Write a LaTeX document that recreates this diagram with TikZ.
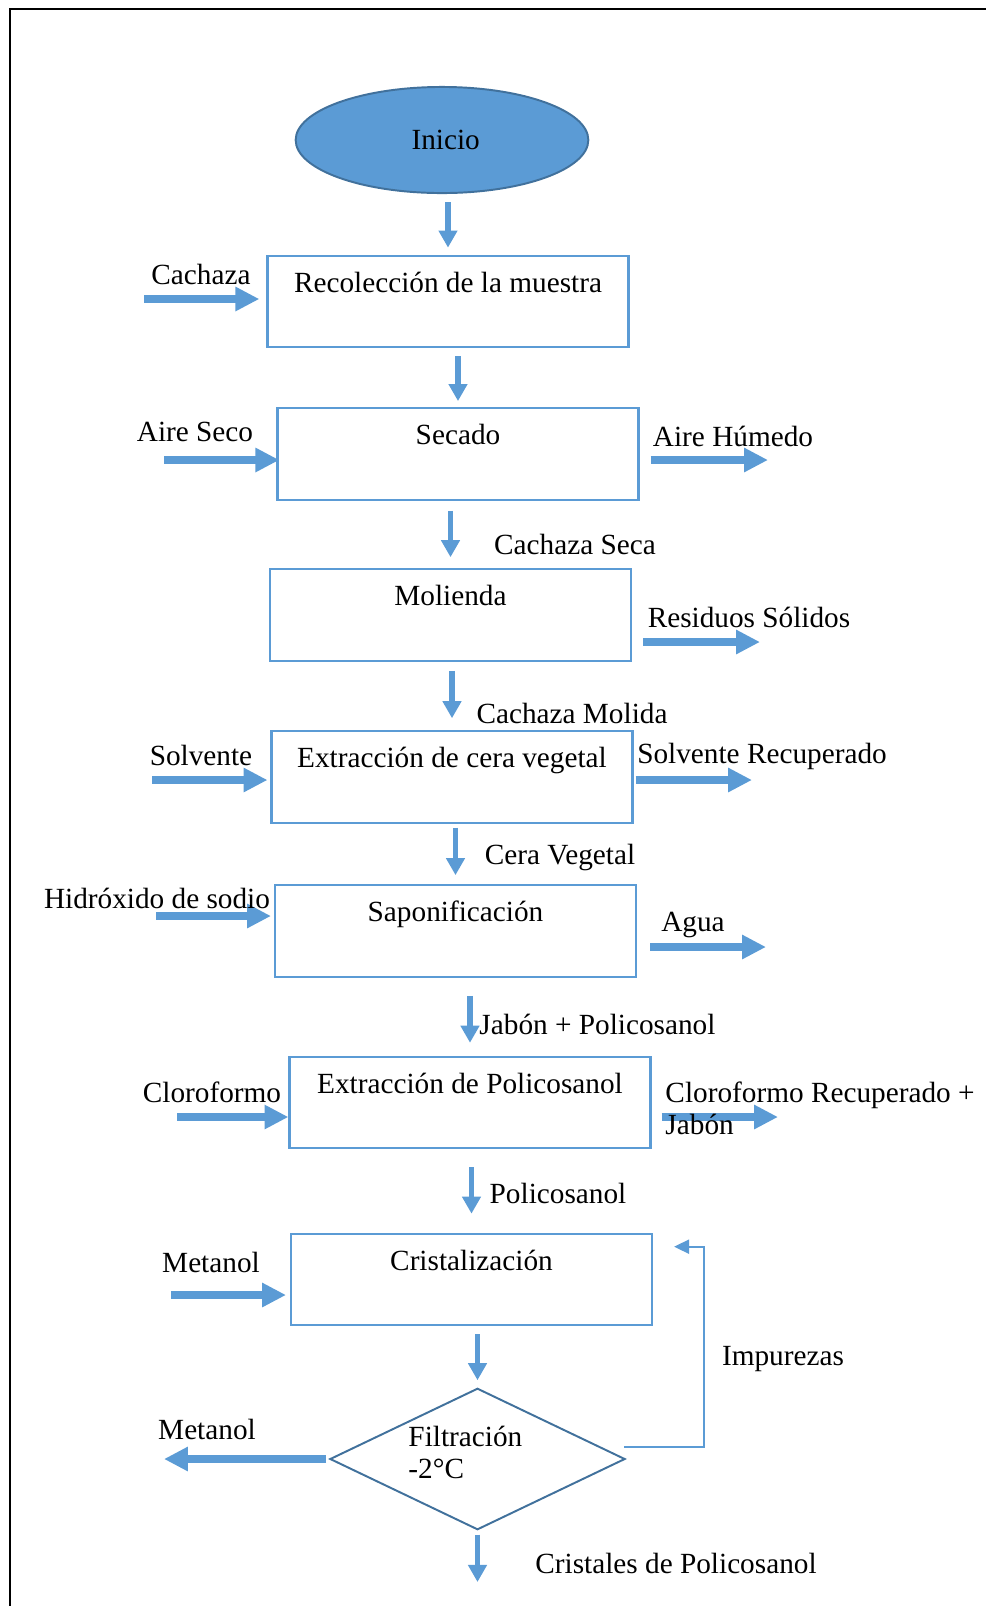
\documentclass[tikz,border=0pt]{standalone}
\usepackage{fontspec}
\setmainfont{Liberation Serif}
\usepackage{tikz}
\usetikzlibrary{positioning,arrows.meta,calc,shapes.geometric}
\definecolor{flowblue}{HTML}{5B9BD5}
\definecolor{flowdark}{HTML}{41719C}
\tikzset{
  procbox/.style  ={draw=flowblue, line width=0.9pt, minimum width=148pt, inner sep=0pt,
                    text height=15pt, text depth=22.5pt},
  startnode/.style={ellipse, fill=flowblue, draw=flowdark, line width=0.8pt,
                    minimum width=120pt, minimum height=43.5pt},
  decision/.style ={diamond, draw=flowdark, line width=0.8pt, minimum width=121pt,
                    minimum height=58pt, inner sep=0pt},
  lbl/.style      ={inner sep=0pt},
  flowarrow/.style={-{Triangle[length=7pt,width=7.4pt]}, flowblue, line width=2.4pt},
  feedarrow/.style={-{Triangle[length=9.8pt,width=9.4pt]}, flowblue, line width=3.2pt},
  looparrow/.style={-{Triangle[length=6.2pt,width=5.8pt]}, flowblue, line width=0.8pt},
}

\begin{document}
\begin{tikzpicture}[x=0.41pt, y=-0.41pt, font=\fontsize{12}{13.1}\selectfont]
  \useasboundingbox (0,0) rectangle (986,1606);
  \draw[line width=1pt] (10,1606) -- (10,9) -- (986,9);

  \node[startnode] (inicio)   at (442,140)    {\hspace*{3pt}Inicio};
  \node[procbox]   (recol)    at (448,301.5)  {Recolección de la muestra};
  \node[procbox]   (secado)   at (458,454)    {Secado};
  \node[procbox]   (molienda) at (450.5,615)  {Molienda};
  \node[procbox]   (extcera)  at (452,777)    {Extracción de cera vegetal};
  \node[procbox]   (sapon)    at (455.5,931)  {Saponificación};
  \node[procbox]   (extpoli)  at (470,1102.5) {Extracción de Policosanol};
  \node[procbox]   (crist)    at (471.5,1279.5) {Cristalización};
  \node[decision]  (filt)     at (477.5,1459) {};
  \node[lbl, anchor=west, align=left] (filtT) at (408,1452) {Filtración\\-2°C};

  % main line
  \draw[flowarrow, shorten <=3.3pt, shorten >=2.9pt] (recol.north |- inicio.south) -- (recol.north);
  \draw[flowarrow, shorten <=3.3pt, shorten >=2.5pt] (secado.north |- recol.south) -- (secado.north);
  \draw[flowarrow, shorten <=4.1pt, shorten >=4.5pt] (molienda.north |- secado.south) -- (molienda.north);
  \draw[flowarrow, shorten <=3.7pt, shorten >=4.9pt] (extcera.north |- molienda.south) -- (extcera.north);
  \draw[flowarrow, shorten <=1.6pt, shorten >=3.7pt] (sapon.north |- extcera.south) -- (sapon.north);
  \draw[flowarrow, shorten <=7.4pt, shorten >=5.3pt] (extpoli.north |- sapon.south) -- (extpoli.north);
  \draw[flowarrow, shorten <=7.4pt, shorten >=7.8pt] (crist.north |- extpoli.south) -- (crist.north);
  \draw[flowarrow, shorten <=3.3pt, shorten >=2.9pt] (filt.north |- crist.south) -- (filt.north);
  \coordinate (cristOut) at (477.5,1582);
  \draw[flowarrow, shorten <=1.6pt] (filt.south) -- (cristOut);

  % feeds in and out
  \coordinate (cachazaIn) at (144,299);
  \draw[feedarrow, shorten >=2.9pt] (cachazaIn) -- (cachazaIn -| recol.west);
  \coordinate (aireIn) at (164,460);
  \draw[feedarrow, shorten >=-1.2pt] (aireIn) -- (aireIn -| secado.west);
  \coordinate (aireOut) at (768,460);
  \draw[feedarrow, shorten <=4.5pt] (aireOut -| secado.east) -- (aireOut);
  \coordinate (residOut) at (760,642);
  \draw[feedarrow, shorten <=4.5pt] (residOut -| molienda.east) -- (residOut);
  \coordinate (solvIn) at (152,780);
  \draw[feedarrow, shorten >=1.2pt] (solvIn) -- (solvIn -| extcera.west);
  \coordinate (solvOut) at (752,780);
  \draw[feedarrow, shorten <=0.8pt] (solvOut -| extcera.east) -- (solvOut);
  \coordinate (sodioIn) at (156,916);
  \draw[feedarrow, shorten >=1.2pt] (sodioIn) -- (sodioIn -| sapon.west);
  \coordinate (aguaOut) at (766,947);
  \draw[feedarrow, shorten <=5.3pt] (aguaOut -| sapon.east) -- (aguaOut);
  \coordinate (clorIn) at (177,1117);
  \draw[feedarrow] (clorIn) -- (clorIn -| extpoli.west);
  \coordinate (clorOut) at (778,1117);
  \draw[feedarrow, shorten <=4.1pt] (clorOut -| extpoli.east) -- (clorOut);
  \coordinate (metIn) at (171,1295);
  \draw[feedarrow, shorten >=1.6pt] (metIn) -- (metIn -| crist.west);
  \coordinate (metOut) at (164,1459);
  \draw[feedarrow, shorten <=1.2pt] (filt.west) -- (filt.west -| metOut);
  \draw[looparrow] ($(filt.east)+(-2,-12)$) -- ++(80,0) |- ($(crist.north east)+(21,14)$);

  % stream labels
  \node[lbl] (cachazaL)   at (201,274)  {Cachaza};
  \node[lbl] (aireInL)    at (195,432)  {Aire Seco};
  \node[lbl] (aireOutL)   at (733,436)  {Aire Húmedo};
  \node[lbl] (secaL)      at (575,544)  {Cachaza Seca};
  \node[lbl] (residL)     at (749,617)  {Residuos Sólidos};
  \node[lbl] (molidaL)    at (572,713)  {Cachaza Molida};
  \node[lbl] (solvInL)    at (201,755)  {Solvente};
  \node[lbl] (solvOutL)   at (762,756)  {Solvente Recuperado};
  \node[lbl] (ceraL)      at (560,857)  {Cera Vegetal};
  \node[lbl] (sodioL)     at (157,898)  {Hidróxido de sodio};
  \node[lbl] (aguaL)      at (693,925)  {Agua};
  \node[lbl, anchor=west] (jabonL) at (479,1024) {Jabón + Policosanol};
  \node[lbl] (clorInL)    at (212,1092) {Cloroformo};
  \node[lbl, anchor=west, align=left] (clorOutL) at (665,1108) {Cloroformo Recuperado +\\Jabón};
  \node[lbl] (policoL)    at (558,1193) {Policosanol};
  \node[lbl] (metInL)     at (211,1262) {Metanol};
  \node[lbl] (metOutL)    at (207,1429) {Metanol};
  \node[lbl] (impL)       at (783,1359) {Impurezas};
  \node[lbl] (cristalesL) at (676,1563) {Cristales de Policosanol};
\end{tikzpicture}
\end{document}
